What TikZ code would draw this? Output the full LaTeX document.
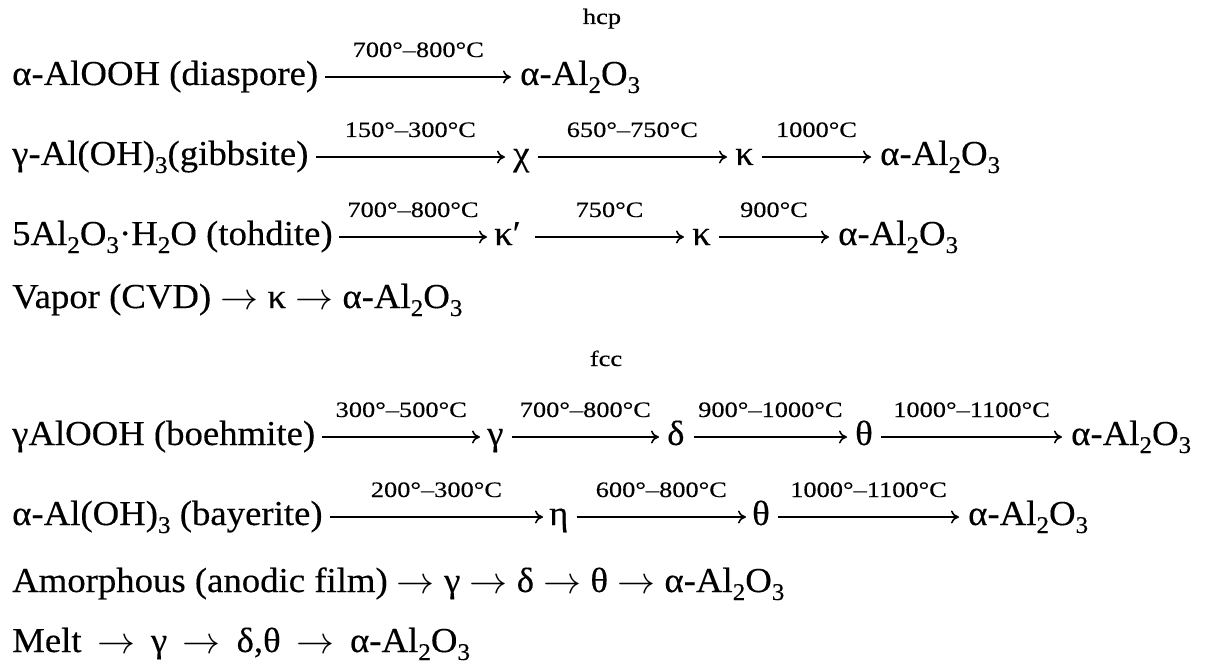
\documentclass[tikz,border=0pt]{standalone}
\usepackage{graphicx}
\usepackage{fontspec}
\setmainfont{Liberation Serif}[FakeStretch=1.05,FakeBold=0.3]
\newfontfamily\lblfam{Liberation Serif}[FakeStretch=1.2,FakeBold=0.4]
\usetikzlibrary{arrows.meta}
\newcommand\sbs[1]{\raisebox{-8pt}{\fontsize{24}{24}\selectfont #1}}
\newcommand\mainsz{\fontsize{35}{40}\selectfont}
\newcommand\lblsz{\lblfam\fontsize{22}{26}\selectfont}
\newcommand\ra{\raisebox{-1.5pt}{\scalebox{3.8}{\normalsize$\rightarrow$}}}
\newcommand\raw{\hspace{6.5pt}\ra\hspace{6.5pt}}
\tikzset{
  sp/.style={inner sep=0pt, anchor=base west, font=\mainsz},
  rx/.style={line width=1.6pt, -{To[length=8pt,width=13pt]}},
  lbl/.style={font=\lblsz, inner sep=0pt, anchor=base, yshift=20pt},
  hdr/.style={font=\lblsz, inner sep=0pt, anchor=base},
}
\newcommand\aluo{α-Al\sbs{2}O\sbs{3}}
\begin{document}
\begin{tikzpicture}[x=1pt,y=-1pt]
\useasboundingbox (0,0) rectangle (1207,663);
% hcp block
\node[hdr] (hcp) at (602,24) {hcp};
% row 1
\node[sp] (r1a) at (12,85) {α-AlOOH (diaspore)};
\node[sp] (r1b) at (520,85) {\aluo};
\draw[rx] ([shift={(7,-8)}]r1a.base east) -- ([shift={(-9,-8)}]r1b.base west) node[lbl,midway]{700°–800°C};
% row 2
\node[sp] (r2a) at (12,165) {γ-Al(OH)\sbs{3}(gibbsite)};
\node[sp] (r2b) at (513,165) {χ};
\node[sp] (r2c) at (735,165) {κ};
\node[sp] (r2d) at (880,165) {\aluo};
\draw[rx] ([shift={(7,-8)}]r2a.base east) -- ([shift={(-8,-8)}]r2b.base west) node[lbl,midway]{150°–300°C};
\draw[rx] ([shift={(8,-8)}]r2b.base east) -- ([shift={(-8,-8)}]r2c.base west) node[lbl,midway]{650°–750°C};
\draw[rx] ([shift={(8,-8)}]r2c.base east) -- ([shift={(-9,-8)}]r2d.base west) node[lbl,midway]{1000°C};
% row 3
\node[sp] (r3a) at (12,245) {5Al\sbs{2}O\sbs{3}·H\sbs{2}O (tohdite)};
\node[sp] (r3b) at (494,245) {κ′};
\node[sp] (r3c) at (692,245) {κ};
\node[sp] (r3d) at (838,245) {\aluo};
\draw[rx] ([shift={(6,-8)}]r3a.base east) -- ([shift={(-7,-8)}]r3b.base west) node[lbl,midway]{700°–800°C};
\draw[rx] ([shift={(14,-8)}]r3b.base east) -- ([shift={(-8,-8)}]r3c.base west) node[lbl,midway]{750°C};
\draw[rx] ([shift={(8,-8)}]r3c.base east) -- ([shift={(-9,-8)}]r3d.base west) node[lbl,midway]{900°C};
% row 4
\node[sp] (r4) at (12,308) {Vapor (CVD) \ra{} κ \ra{} \aluo};
% fcc block
\node[hdr] (fcc) at (606,366) {fcc};
% row 5
\node[sp] (r5a) at (12,445) {γAlOOH (boehmite)};
\node[sp] (r5b) at (487,445) {γ};
\node[sp] (r5c) at (667,445) {δ};
\node[sp] (r5d) at (855,445) {θ};
\node[sp] (r5e) at (1071,445) {\aluo};
\draw[rx] ([shift={(7,-8)}]r5a.base east) -- ([shift={(-7,-8)}]r5b.base west) node[lbl,midway]{300°–500°C};
\draw[rx] ([shift={(8,-8)}]r5b.base east) -- ([shift={(-8,-8)}]r5c.base west) node[lbl,midway]{700°–800°C};
\draw[rx] ([shift={(9,-8)}]r5c.base east) -- ([shift={(-8,-8)}]r5d.base west) node[lbl,midway]{900°–1000°C};
\draw[rx] ([shift={(8,-8)}]r5d.base east) -- ([shift={(-9,-8)}]r5e.base west) node[lbl,midway]{1000°–1100°C};
% row 6
\node[sp] (r6a) at (12,525) {α-Al(OH)\sbs{3} (bayerite)};
\node[sp] (r6b) at (549,525) {η};
\node[sp] (r6c) at (752,525) {θ};
\node[sp] (r6d) at (968,525) {\aluo};
\draw[rx] ([shift={(7,-8)}]r6a.base east) -- ([shift={(-6,-8)}]r6b.base west) node[lbl,midway]{200°–300°C};
\draw[rx] ([shift={(8,-8)}]r6b.base east) -- ([shift={(-6,-8)}]r6c.base west) node[lbl,midway]{600°–800°C};
\draw[rx] ([shift={(8,-8)}]r6c.base east) -- ([shift={(-9,-8)}]r6d.base west) node[lbl,midway]{1000°–1100°C};
% rows 7 and 8
\node[sp] (r7) at (12,592) {Amorphous (anodic film) \ra{} γ \ra{} δ \ra{} θ \ra{} \aluo};
\node[sp] (r8) at (12,652) {Melt \raw{} γ \raw{} δ,θ \raw{} \aluo};
\end{tikzpicture}
\end{document}
